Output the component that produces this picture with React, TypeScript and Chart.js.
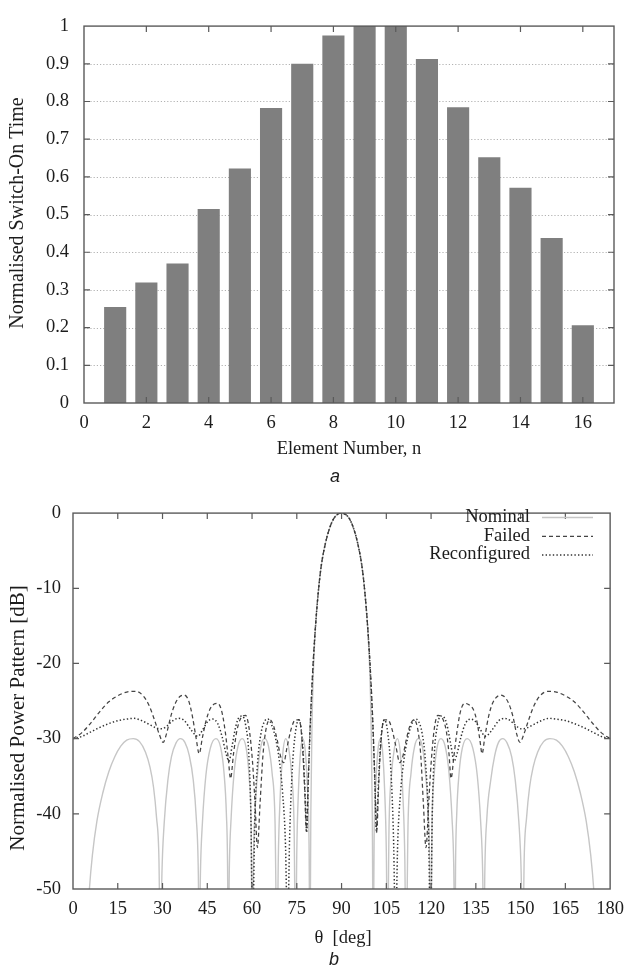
import { useEffect, useRef } from "react";
import { Chart, registerables } from "chart.js";

Chart.register(...registerables);

// ---------- (a) switch-on times of the 16 array elements ----------
const elementNumbers = [1, 2, 3, 4, 5, 6, 7, 8, 9, 10, 11, 12, 13, 14, 15, 16];
const switchOnTime = [
  0.255, 0.32, 0.37, 0.515, 0.622, 0.783, 0.9, 0.975, 1.0, 1.0, 0.913, 0.785, 0.652, 0.571, 0.438, 0.206,
];

// ---------- (b) power patterns, [theta deg, dB] ----------
const nominalPattern: [number, number][] = [
  [0, -70], [3, -62], [4.8, -55], [5.5, -50], [6.5, -45.5], [8, -41], [10, -37.2], [12, -34.4], [14, -32.4],
  [16, -31], [18, -30.2], [20.2, -30], [22.3, -30.4], [24.3, -31.8], [25.8, -33.8], [27, -36.5], [28, -40.5],
  [28.8, -46], [29.3, -60],
  [29.8, -48], [30.6, -41], [31.8, -35.5], [33, -32.4], [34.5, -30.6], [36, -30], [37.5, -30.5], [39, -32.3],
  [40.3, -35.5], [41.3, -40.5], [42, -48], [42.3, -60],
  [42.7, -48], [43.4, -41], [44.5, -35], [46, -31.3], [47.9, -30], [49.5, -31.2], [50.6, -34.5], [51.4, -40],
  [51.8, -47], [52, -60],
  [52.4, -47], [53, -40.5], [54, -34.5], [55.3, -31], [56.7, -30], [58, -31.2], [59, -35], [59.7, -42], [60.1, -60],
  [60.5, -46], [61.1, -39], [62.1, -33.5], [63.2, -30.6], [64.3, -30], [65.5, -31], [66.7, -34.5], [67.7, -41],
  [68.4, -60],
  [68.8, -46], [69.4, -38], [70.3, -32], [71.3, -30], [72.3, -31.3], [73.3, -35], [74.1, -42], [74.6, -60],
  [75, -45], [75.6, -36.5], [76.3, -31.5], [77, -30], [77.8, -31.5], [78.5, -36], [79.1, -44], [79.4, -60],
  [79.7, -40], [80.1, -28], [80.6, -20.5], [81.3, -15], [82.2, -10.5], [83.2, -7], [84.6, -4], [86, -2],
  [87.6, -0.6], [90, 0], [92.4, -0.6], [94, -2], [95.4, -4], [96.8, -7], [97.8, -10.5], [98.7, -15],
  [99.4, -20.5], [99.9, -28], [100.3, -40], [100.6, -60],
  [100.9, -44], [101.5, -36], [102.2, -31.5], [103, -30], [103.7, -31.5], [104.4, -36.5], [105, -45], [105.4, -60],
  [105.9, -42], [106.7, -35], [107.7, -31.3], [108.7, -30], [109.7, -32], [110.6, -38], [111.2, -46], [111.6, -60],
  [112.3, -41], [113.3, -34.5], [114.5, -31], [115.7, -30], [116.8, -30.6], [117.9, -33.5], [118.9, -39],
  [119.5, -46], [119.9, -60],
  [120.3, -42], [121, -35], [122, -31.2], [123.3, -30], [124.7, -31], [126, -34.5], [127, -40.5], [127.6, -47],
  [128, -60],
  [128.2, -47], [128.6, -40], [129.4, -34.5], [130.5, -31.2], [132.1, -30], [134, -31.3], [135.5, -35],
  [136.6, -41], [137.3, -48], [137.7, -60],
  [138, -48], [138.7, -40.5], [140, -35.5], [141.3, -32.3], [142.6, -30.5], [144, -30], [145.5, -30.6],
  [147, -32.4], [148.2, -35.5], [149.4, -41], [150.2, -48], [150.7, -60],
  [151.2, -46], [152, -40.5], [153, -36.5], [154.2, -33.8], [155.7, -31.8], [157.7, -30.4], [159.8, -30],
  [162, -30.2], [164, -31], [166, -32.4], [168, -34.4], [170, -37.2], [172, -41], [173.5, -45.5], [174.5, -50],
  [175.2, -55], [177, -62], [180, -70],
];

const failedPattern: [number, number][] = [
  [0, -30], [3, -29.2], [6, -27.9], [9, -26.4], [12, -25.1], [15, -24.3], [18, -23.8], [21, -23.7], [23.5, -24.3],
  [25.5, -25.6], [27.3, -27.5], [28.9, -29.4], [30.2, -30.5], [31.3, -29.4], [32.8, -27], [34.3, -25.3],
  [35.8, -24.4], [37.2, -24.2], [38.7, -24.9], [40, -27], [41.2, -29.8], [42.3, -32], [43.3, -30], [44.6, -27.6],
  [46, -26], [47.3, -25.4], [48.5, -25.3], [49.8, -26.3], [51, -29], [52, -32.5], [52.8, -35.3], [53.8, -32],
  [54.9, -29], [56.2, -27.3], [57.8, -26.9], [59, -28.6], [60.1, -32.8], [61, -38.5], [61.8, -44.5], [62.7, -38.5],
  [63.7, -32], [64.8, -28.5], [66, -27.5], [67.3, -28.4], [68.5, -30.3], [69.6, -32.4], [70.6, -33.2], [71.8, -31],
  [73.2, -28.6], [74.5, -27.5], [75.8, -27.5], [76.8, -30.5], [77.6, -36.5], [78.2, -42.3], [78.8, -36],
  [79.4, -29], [80, -23.5], [80.6, -19], [81.3, -14.8], [82.2, -10.5], [83.2, -7], [84.6, -4], [86, -2],
  [87.6, -0.6], [90, 0], [92.4, -0.6], [94, -2], [95.4, -4], [96.8, -7], [97.8, -10.5], [98.7, -14.8],
  [99.4, -19], [100, -23.5], [100.6, -29], [101.2, -36], [101.8, -42.3], [102.4, -36.5], [103.2, -30.5],
  [104.2, -27.5], [105.5, -27.5], [106.8, -28.6], [108.2, -31], [109.5, -33.2], [110.5, -32.4], [111.6, -30.3],
  [112.8, -28.4], [114.2, -27.5], [115.4, -28.5], [116.5, -32], [117.4, -38.5], [118.3, -44.5], [119.2, -38.5],
  [120.1, -32.8], [121.1, -28.6], [122.3, -26.9], [123.8, -27.3], [125.1, -29], [126, -32], [126.7, -35.3],
  [127.6, -32.5], [128.7, -29], [129.9, -26.3], [131.3, -25.3], [132.7, -25.5], [134, -26], [135.3, -27.6],
  [136.3, -30], [137.1, -32], [138, -29.8], [139.3, -27], [140.6, -25.3], [141.9, -24.5], [143.1, -24.2],
  [144.5, -24.4], [146, -25.3], [147.4, -27], [148.7, -29.4], [149.8, -30.5], [151.1, -29.4], [152.7, -27.5],
  [154.5, -25.6], [156.5, -24.3], [159.2, -23.7], [162, -23.8], [165, -24.3], [168, -25.1], [171, -26.4],
  [174, -27.9], [177, -29.2], [180, -30],
];

const reconfiguredPattern: [number, number][] = [
  [0, -30], [3, -29.7], [6, -29.1], [9, -28.5], [12, -28], [15, -27.6], [18, -27.4], [20.5, -27.3], [23, -27.6],
  [26, -28.2], [28, -28.6], [29.8, -28.7], [31.5, -28.3], [33.5, -27.6], [35.3, -27.3], [37.3, -27.6],
  [39.5, -28.8], [41.8, -29.7], [43.5, -28.8], [45.2, -27.7], [46.8, -27.4], [48.5, -28], [50, -29.8],
  [51.3, -32], [52.3, -33], [53.3, -31], [54.6, -28.3], [55.8, -27.1], [56.8, -27], [57.9, -28.3], [58.9, -32],
  [59.6, -40], [60.2, -56], [60.9, -41], [61.9, -33], [63, -29.3], [64.2, -27.7], [65.3, -27.4], [66.6, -28.2],
  [67.9, -30], [69.1, -32.8], [70.2, -37], [71.2, -44], [71.9, -56], [72.6, -43], [73.5, -34], [74.6, -29],
  [75.6, -27.5], [76.5, -28.8], [77.3, -33], [77.9, -38.5], [78.3, -42.5], [78.9, -35], [79.5, -28.5],
  [80, -24], [80.6, -19.3], [81.3, -14.9], [82.2, -10.5], [83.2, -7], [84.6, -4], [86, -2], [87.6, -0.6],
  [90, 0], [92.4, -0.6], [94, -2], [95.4, -4], [96.8, -7], [97.8, -10.5], [98.7, -14.9], [99.4, -19.3],
  [100, -24], [100.5, -28.5], [101.1, -35], [101.7, -42.5], [102.1, -38.5], [102.7, -33], [103.5, -28.8],
  [104.4, -27.5], [105.4, -29], [106.5, -34], [107.4, -43], [108.1, -56], [108.8, -44], [109.8, -37],
  [110.9, -32.8], [112.1, -30], [113.4, -28.2], [114.7, -27.4], [115.8, -27.7], [117, -29.3], [118.1, -33],
  [119.1, -41], [119.8, -56], [120.4, -40], [121.1, -32], [122.1, -28.3], [123.2, -27], [124.2, -27.1],
  [125.4, -28.3], [126.7, -31], [127.7, -33], [128.7, -32], [130, -29.8], [131.5, -28], [133.2, -27.4],
  [134.8, -27.7], [136.5, -28.8], [138.2, -29.7], [140.5, -28.8], [142.7, -27.6], [144.7, -27.3], [146.5, -27.6],
  [148.5, -28.3], [150.2, -28.7], [152, -28.6], [154, -28.2], [157, -27.6], [159.5, -27.3], [162, -27.4],
  [165, -27.6], [168, -28], [171, -28.5], [174, -29.1], [177, -29.7], [180, -30],
];

const seriesNames = ["Nominal", "Failed", "Reconfigured"];

const SERIF = '"Liberation Serif", "Times New Roman", Times, serif';
const SANS = '"Liberation Sans", Arial, Helvetica, sans-serif';
const FRAME = "#5a5a5a";
const TEXT = "#1c1c1c";

const nominalStyle = { color: "#c6c6c6", width: 1.4, dash: [] as number[] };
const failedStyle = { color: "#444444", width: 1.25, dash: [4, 3] };
const reconfStyle = { color: "#333333", width: 1.5, dash: [1.4, 2.2] };

type TextItem = { text: string; x: number; y: number; font: string; rotate?: boolean };

// Dotted horizontal grid, plot frame and inward tick marks on all four sides.
function framePlugin(withGrid: boolean) {
  return {
    id: "frameTicks",
    beforeDatasetsDraw(chart: any) {
      if (!withGrid) return;
      const { ctx, chartArea: a, scales } = chart;
      const y = scales.y;
      ctx.save();
      ctx.strokeStyle = "#b2b2b2";
      ctx.lineWidth = 1;
      ctx.setLineDash([1.2, 2]);
      y.ticks.forEach((t: any) => {
        if (t.value <= y.min || t.value >= y.max) return;
        const py = Math.round(y.getPixelForValue(t.value)) + 0.5;
        ctx.beginPath();
        ctx.moveTo(a.left, py);
        ctx.lineTo(a.right, py);
        ctx.stroke();
      });
      ctx.restore();
    },
    afterDatasetsDraw(chart: any) {
      const { ctx, chartArea: a, scales } = chart;
      const { x, y } = scales;
      const len = 6;
      ctx.save();
      ctx.strokeStyle = FRAME;
      ctx.lineWidth = 1.4;
      ctx.setLineDash([]);
      ctx.strokeRect(a.left, a.top, a.right - a.left, a.bottom - a.top);
      ctx.lineWidth = 1.2;
      ctx.beginPath();
      x.ticks.forEach((t: any) => {
        if (t.value <= x.min || t.value >= x.max) return;
        const px = x.getPixelForValue(t.value);
        ctx.moveTo(px, a.bottom);
        ctx.lineTo(px, a.bottom - len);
        ctx.moveTo(px, a.top);
        ctx.lineTo(px, a.top + len);
      });
      y.ticks.forEach((t: any) => {
        if (t.value <= y.min || t.value >= y.max) return;
        const py = y.getPixelForValue(t.value);
        ctx.moveTo(a.left, py);
        ctx.lineTo(a.left + len, py);
        ctx.moveTo(a.right, py);
        ctx.lineTo(a.right - len, py);
      });
      ctx.stroke();
      ctx.restore();
    },
  };
}

function textPlugin(items: TextItem[]) {
  return {
    id: "texts",
    afterDraw(chart: any) {
      const { ctx } = chart;
      ctx.save();
      ctx.fillStyle = TEXT;
      ctx.textAlign = "center";
      ctx.textBaseline = "middle";
      items.forEach((it) => {
        ctx.font = it.font;
        if (it.rotate) {
          ctx.save();
          ctx.translate(it.x, it.y);
          ctx.rotate(-Math.PI / 2);
          ctx.fillText(it.text, 0, 0);
          ctx.restore();
        } else {
          ctx.fillText(it.text, it.x, it.y);
        }
      });
      ctx.restore();
    },
  };
}

const legendPlugin = {
  id: "patternLegend",
  afterDraw(chart: any) {
    const { ctx } = chart;
    const styles = [nominalStyle, failedStyle, reconfStyle];
    ctx.save();
    ctx.font = `18.5px ${SERIF}`;
    ctx.textAlign = "right";
    ctx.textBaseline = "middle";
    seriesNames.forEach((name, i) => {
      const yy = 27 + i * 18.8;
      ctx.fillStyle = TEXT;
      ctx.fillText(name, 530, yy);
      ctx.strokeStyle = styles[i].color;
      ctx.lineWidth = styles[i].width;
      ctx.setLineDash(styles[i].dash);
      ctx.beginPath();
      ctx.moveTo(542, yy + 0.5);
      ctx.lineTo(593, yy + 0.5);
      ctx.stroke();
    });
    ctx.restore();
  },
};

const tickFont = { family: SERIF, size: 18.5 };

function BarPanel() {
  const ref = useRef<HTMLCanvasElement>(null);
  useEffect(() => {
    const chart = new Chart(ref.current as HTMLCanvasElement, {
      type: "bar",
      data: {
        datasets: [
          {
            data: elementNumbers.map((n, i) => ({ x: n, y: switchOnTime[i] })),
            backgroundColor: "#7f7f7f",
            borderWidth: 0,
            categoryPercentage: 1,
            barPercentage: 0.71,
          },
        ],
      },
      options: {
        responsive: false,
        animation: false,
        layout: { padding: { top: 15, right: 19, left: 0, bottom: 0 } },
        plugins: { legend: { display: false }, tooltip: { enabled: false } },
        scales: {
          x: {
            type: "linear",
            min: 0,
            max: 17,
            offset: false,
            grid: { display: false, drawTicks: false },
            border: { display: false },
            ticks: { stepSize: 2, includeBounds: false, padding: 9, color: TEXT, font: tickFont, maxRotation: 0 },
            afterFit: (s: any) => {
              s.height = 87;
            },
          },
          y: {
            min: 0,
            max: 1,
            grid: { display: false, drawTicks: false },
            border: { display: false },
            ticks: {
              stepSize: 0.1,
              padding: 15,
              color: TEXT,
              font: tickFont,
              callback: (v: any) => {
                const n = Number(v);
                if (Math.abs(n) < 1e-9) return "0";
                if (Math.abs(n - 1) < 1e-9) return "1";
                return n.toFixed(1);
              },
            },
            afterFit: (s: any) => {
              s.width = 84;
            },
          },
        },
      },
      plugins: [
        framePlugin(true),
        textPlugin([
          { text: "Normalised Switch-On Time", x: 18, y: 213, font: `20px ${SERIF}`, rotate: true },
          { text: "Element Number, n", x: 349, y: 449, font: `18.5px ${SERIF}` },
          { text: "a", x: 335, y: 477, font: `italic 18px ${SANS}` },
        ]),
      ],
    } as any);
    return () => chart.destroy();
  }, []);
  return <canvas ref={ref} width={633} height={490} style={{ display: "block" }} />;
}

function PatternPanel() {
  const ref = useRef<HTMLCanvasElement>(null);
  useEffect(() => {
    const mk = (pts: [number, number][], st: typeof nominalStyle, label: string, order: number) => ({
      label,
      data: pts.map(([t, d]) => ({ x: t, y: d })),
      borderColor: st.color,
      borderWidth: st.width,
      borderDash: st.dash,
      pointRadius: 0,
      fill: false,
      cubicInterpolationMode: "monotone",
      order,
    });
    const chart = new Chart(ref.current as HTMLCanvasElement, {
      type: "line",
      data: {
        datasets: [
          mk(nominalPattern, nominalStyle, seriesNames[0], 3),
          mk(failedPattern, failedStyle, seriesNames[1], 2),
          mk(reconfiguredPattern, reconfStyle, seriesNames[2], 1),
        ],
      },
      options: {
        responsive: false,
        animation: false,
        layout: { padding: { top: 12, right: 19, left: 0, bottom: 0 } },
        plugins: { legend: { display: false }, tooltip: { enabled: false } },
        scales: {
          x: {
            type: "linear",
            min: 0,
            max: 180,
            grid: { display: false, drawTicks: false },
            border: { display: false },
            ticks: { stepSize: 15, padding: 9, color: TEXT, font: tickFont, maxRotation: 0, autoSkip: false },
            afterFit: (s: any) => {
              s.height = 82;
            },
          },
          y: {
            min: -50,
            max: 0,
            grid: { display: false, drawTicks: false },
            border: { display: false },
            ticks: {
              stepSize: 10,
              padding: 12,
              color: TEXT,
              font: tickFont,
              callback: (v: any) => String(Math.round(Number(v))),
            },
            afterFit: (s: any) => {
              s.width = 73;
            },
          },
        },
      },
      plugins: [
        framePlugin(false),
        legendPlugin,
        textPlugin([
          { text: "Normalised Power Pattern [dB]", x: 18, y: 228, font: `21px ${SERIF}`, rotate: true },
          { text: "\u03b8  [deg]", x: 343, y: 448, font: `18.5px ${SERIF}` },
          { text: "b", x: 334, y: 470, font: `italic 18px ${SANS}` },
        ]),
      ],
    } as any);
    return () => chart.destroy();
  }, []);
  return <canvas ref={ref} width={633} height={481} style={{ display: "block" }} />;
}

export default function App() {
  return (
    <div style={{ position: "absolute", left: 0, top: 0, width: 633, height: 971, background: "#fff" }}>
      <BarPanel />
      <PatternPanel />
    </div>
  );
}
